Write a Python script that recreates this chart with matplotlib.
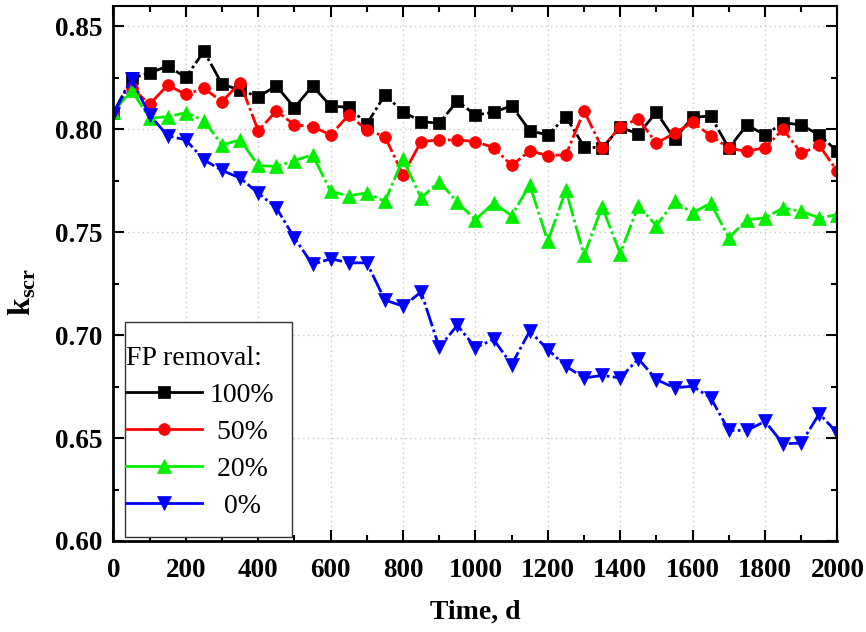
import matplotlib
matplotlib.use("Agg")
import matplotlib.pyplot as plt
from matplotlib.path import Path
from matplotlib.transforms import Affine2D
from matplotlib.ticker import MultipleLocator, FormatStrFormatter

plt.rcParams['font.family'] = ['Liberation Serif', 'DejaVu Serif']
plt.rcParams['mathtext.fontset'] = 'custom'
plt.rcParams['mathtext.rm'] = 'Liberation Serif'
plt.rcParams['mathtext.bf'] = 'Liberation Serif:bold'

time_d = list(range(0, 2001, 50))

k_100 = [0.808, 0.8247, 0.8274, 0.8306, 0.8252, 0.8379, 0.8219, 0.8190, 0.8158, 0.8210,
         0.8105, 0.8210, 0.8113, 0.8106, 0.8026, 0.8166, 0.8085, 0.8037, 0.8029, 0.8137,
         0.8069, 0.8082, 0.8114, 0.7993, 0.7972, 0.8061, 0.7916, 0.7908, 0.8010, 0.7977,
         0.8082, 0.7952, 0.8058, 0.8064, 0.7908, 0.8021, 0.7972, 0.8032, 0.8021, 0.7972,
         0.7892]
k_50 = [0.808, 0.8200, 0.8122, 0.8214, 0.8169, 0.8198, 0.8134, 0.8226, 0.7992, 0.8089,
        0.8021, 0.8013, 0.7972, 0.8069, 0.7997, 0.7964, 0.7779, 0.7940, 0.7948, 0.7948,
        0.7940, 0.7911, 0.7824, 0.7895, 0.7872, 0.7876, 0.8089, 0.7908, 0.8013, 0.8050,
        0.7932, 0.7981, 0.8034, 0.7969, 0.7908, 0.7892, 0.7911, 0.8000, 0.7884, 0.7921,
        0.7795]
k_20 = [0.8085, 0.8190, 0.8053, 0.8061, 0.8080, 0.8042, 0.7924, 0.7948, 0.7824, 0.7819,
        0.7848, 0.7876, 0.7698, 0.7677, 0.7690, 0.7650, 0.7855, 0.7666, 0.7746, 0.7645,
        0.7560, 0.7642, 0.7580, 0.7730, 0.7456, 0.7704, 0.7387, 0.7623, 0.7396, 0.7628,
        0.7532, 0.7650, 0.7593, 0.7642, 0.7472, 0.7561, 0.7569, 0.7618, 0.7601, 0.7569,
        0.7585]
k_0 = [0.8075, 0.8242, 0.8069, 0.7968, 0.7948, 0.7851, 0.7800, 0.7763, 0.7690, 0.7618,
       0.7472, 0.7343, 0.7371, 0.7351, 0.7351, 0.7170, 0.7141, 0.7209, 0.6940, 0.7048,
       0.6939, 0.6979, 0.6857, 0.7019, 0.6930, 0.6849, 0.6792, 0.6804, 0.6792, 0.6885,
       0.6784, 0.6744, 0.6752, 0.6695, 0.6537, 0.6537, 0.6581, 0.6472, 0.6476, 0.6618,
       0.6524]

series_labels = ["100%", " 50%", " 20%", "  0%"]
series_colors = ["#000000", "#ff0000", "#00ee00", "#0000ff"]
series_markers = ["s", "o", "^", "v"]
series_msize = [8, 8.5, 9.5, 9.5]

fig = plt.figure(figsize=(8.66, 6.32), dpi=100)
ax = fig.add_axes([0.131, 0.144, 0.836, 0.847])

dash = (0, (7, 1.2, 1, 1.2))
for ys, lab, col, mk, ms in zip([k_100, k_50, k_20, k_0], series_labels,
                                 series_colors, series_markers, series_msize):
    ax.plot(time_d, ys, color=col, marker=mk, markersize=ms, linewidth=2,
            linestyle=dash, label=lab, markeredgewidth=0.5, markeredgecolor=col)

ax.set_xlim(0, 2000)
ax.set_ylim(0.60, 0.86)
ax.xaxis.set_major_locator(MultipleLocator(200))
ax.xaxis.set_minor_locator(MultipleLocator(100))
ax.yaxis.set_major_locator(MultipleLocator(0.05))
ax.yaxis.set_minor_locator(MultipleLocator(0.025))
ax.yaxis.set_major_formatter(FormatStrFormatter('%.2f'))

ax.grid(True, which='major', color='#c8c8c8', linestyle=(0, (1, 2.5)), linewidth=1)
ax.set_axisbelow(True)

ax.tick_params(which='both', direction='in', top=True, right=True)
ax.tick_params(which='major', length=8, width=1.5)
ax.tick_params(axis='x', which='major', pad=12)
ax.tick_params(axis='y', which='major', pad=8)
ax.tick_params(which='minor', length=4.5, width=1.5)
for lbl in ax.get_xticklabels() + ax.get_yticklabels():
    lbl.set_fontweight('bold')
    lbl.set_fontsize(19.5)

for side in ['left', 'bottom']:
    ax.spines[side].set_linewidth(2)
for side in ['top', 'right']:
    ax.spines[side].set_linewidth(1.5)

ax.set_xlabel('Time, d', fontsize=20, fontweight='bold', labelpad=12)
ax.set_ylabel(r'$\mathbf{k}_{\mathbf{scr}}$', fontsize=23)
ax.yaxis.set_label_coords(-0.104, 0.466)

leg = ax.legend(loc='lower left', bbox_to_anchor=(0.0173, 0.041), borderaxespad=0,
                title='FP removal:', fontsize=20, title_fontsize=20,
                fancybox=False, edgecolor='#333333', framealpha=1,
                handlelength=2.75, handletextpad=0.27, labelspacing=0.42,
                borderpad=0.0, alignment='left')


def legend_box(x0, y0, width, height, mutation_size):
    pl, pr, pt, pb = 1.0, 18.0, 24.0, 18.0
    return Path.unit_rectangle().transformed(
        Affine2D().scale(width + pl + pr, height + pt + pb).translate(x0 - pl, y0 - pb))


leg.get_frame().set_boxstyle(legend_box)
leg.get_frame().set_linewidth(1)
for ln in leg.get_lines():
    ln.set_linestyle('-')

fig.savefig('out.png', dpi=100)
